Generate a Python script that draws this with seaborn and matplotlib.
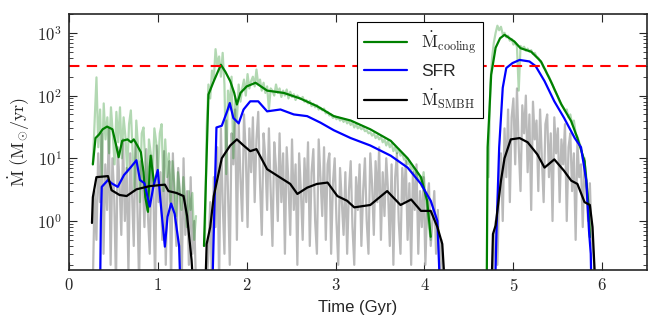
import numpy as np
import matplotlib
matplotlib.use("Agg")
import matplotlib.pyplot as plt
import seaborn as sns

# Dados (tempo em Gyr, taxas em Msun/yr)

# M_cooling suavizado (3 episodios)
t_cool_1 = [0.27, 0.30, 0.34, 0.38, 0.43, 0.49, 0.53, 0.56, 0.60, 0.66, 0.70, 0.73, 0.77, 0.81, 0.84, 0.86, 0.89, 0.91, 0.92, 0.94, 0.96]
v_cool_1 = [8, 21, 24, 29, 32, 29, 16.6, 10.4, 19, 20, 18, 20, 16, 12.5, 6, 2.4, 1.4, 7.3, 11, 6.4, 4]
t_cool_2 = [1.52, 1.57, 1.63, 1.71, 1.76, 1.815, 1.86, 1.89, 1.93, 2.00, 2.10, 2.23, 2.42, 2.60, 2.79, 2.98, 3.17, 3.39, 3.62, 3.81, 3.96, 4.03, 4.07]
v_cool_2 = [0.4, 104, 170, 310, 240, 170, 110, 72, 110, 140, 160, 120, 110, 90, 68, 47, 40, 29, 19, 10, 5, 2.1, 0.56]
t_cool_3 = [4.70, 4.71, 4.75, 4.80, 4.85, 4.90, 5.01, 5.08, 5.20, 5.31, 5.42, 5.54, 5.65, 5.72, 5.80, 5.84, 5.86]
v_cool_3 = [0.1, 15, 215, 580, 820, 930, 730, 570, 500, 350, 170, 72, 39, 21, 9, 2.1, 0.55]

# SFR
t_sfr_1 = [0.35, 0.36, 0.37, 0.44, 0.48, 0.55, 0.62, 0.70, 0.76, 0.80, 0.85, 0.91, 0.95, 1.00, 1.04, 1.08, 1.11, 1.15, 1.19, 1.22, 1.24, 1.26]
v_sfr_1 = [0.05, 1.0, 3.5, 4.5, 4, 3.5, 5.4, 7.3, 9.3, 4.5, 4, 1.7, 3.5, 6.5, 1.5, 0.39, 1.17, 1.9, 1.3, 0.64, 0.4, 0.05]
t_sfr_2 = [1.61, 1.66, 1.72, 1.78, 1.81, 1.85, 1.91, 1.965, 2.04, 2.13, 2.23, 2.38, 2.53, 2.68, 2.83, 2.98, 3.17, 3.39, 3.62, 3.81, 3.96, 4.07, 4.145, 4.18]
v_sfr_2 = [0.05, 31, 33, 56, 76, 44, 36, 60, 81, 81, 56, 60, 50, 47, 37, 28, 21, 16, 11, 7.1, 3.9, 2.1, 1.0, 0.05]
t_sfr_3 = [4.79, 4.81, 4.84, 4.88, 4.92, 4.99, 5.07, 5.18, 5.25, 5.35, 5.46, 5.57, 5.69, 5.76, 5.82, 5.85, 5.87, 5.88]
v_sfr_3 = [0.05, 0.7, 15, 133, 275, 330, 370, 350, 295, 170, 81, 44, 21, 15, 4.4, 0.7, 0.3, 0.05]

# M_SMBH suavizado
t_bh_1 = [0.26, 0.27, 0.31, 0.44, 0.48, 0.57, 0.65, 0.76, 0.91, 1.08, 1.12, 1.21, 1.29, 1.33, 1.38, 1.41]
v_bh_1 = [0.93, 2.4, 5, 5.2, 3.1, 2.6, 2.5, 3.2, 3.6, 3.8, 3, 2.8, 2.5, 1.2, 0.24, 0.05]
t_bh_2 = [1.53, 1.55, 1.59, 1.63, 1.72, 1.815, 1.89, 1.965, 2.04, 2.11, 2.23, 2.38, 2.49, 2.57, 2.68, 2.79, 2.91, 3.02, 3.13, 3.21, 3.39, 3.58, 3.73, 3.85, 3.96, 4.07, 4.145, 4.20, 4.24]
v_bh_2 = [0.05, 0.43, 0.8, 2.5, 10, 16, 20, 16, 13, 14, 6.7, 4.9, 3.9, 2.7, 3.4, 3.9, 4.1, 2.5, 2.1, 1.65, 1.8, 3.0, 1.8, 2.2, 1.45, 1.45, 0.8, 0.43, 0.05]
t_bh_3 = [4.75, 4.77, 4.80, 4.86, 4.90, 4.97, 5.07, 5.16, 5.27, 5.35, 5.46, 5.57, 5.65, 5.72, 5.80, 5.86, 5.89, 5.93]
v_bh_3 = [0.05, 0.62, 0.85, 4.4, 10, 20, 21, 18, 11.5, 7.1, 9.6, 6.3, 4.4, 3.9, 2.0, 1.8, 0.8, 0.05]

# series brutas (passo de 0.02 Gyr)
lim_cool_raw = [(0.27, 1.43), (1.53, 4.07), (4.72, 5.86)]
cool_raw_1 = [8, 40, 195, 15, 60, 5, 75, 20, 45, 12, 65, 25, 8, 55, 18, 65, 10, 45, 22, 6,
              35, 58, 12, 3, 40, 15, 2, 25, 31, 8, 1.5, 20, 12, 4, 30, 18, 6, 25, 35, 3,
              20, 5, 12, 2, 9, 4, 1.2, 6, 3, 1.5, 5, 2, 0.8, 3, 1.5, 2.8, 0.5, 1.2]
cool_raw_2 = [0.4, 30, 150, 90, 250, 180, 550, 300, 420, 200, 480,
              150, 5.6, 120, 60, 200, 10, 90, 40, 150, 80, 130,
              180, 100, 220, 130, 170, 200, 140, 260, 150, 180, 120,
              160, 110, 140, 60, 130, 120, 100, 150, 110, 130, 95,
              120, 100, 125, 90, 115, 95, 105, 85, 100, 92, 88,
              95, 80, 85, 75, 82, 68, 74, 65, 70, 60, 64,
              58, 62, 52, 55, 48, 50, 44, 47, 42, 45, 40,
              43, 38, 42, 36, 39, 34, 37, 31, 35, 30, 32,
              29, 31, 27, 28, 25, 26, 23, 25, 21, 23, 20,
              22, 18, 20, 16, 19, 15, 17, 13, 15, 12, 14,
              11, 12, 9.5, 10, 8, 9, 6.5, 7.5, 5.5, 6, 4.5,
              5, 3.5, 6, 2.5, 1.5, 0.8, 0.5]
cool_raw_3 = [5, 150, 400, 700, 1000, 1300, 1100, 1250, 950, 1000, 850, 900, 750, 800, 650,
              700, 600, 120, 620, 560, 600, 520, 560, 500, 530, 460, 480, 420, 400, 350,
              330, 280, 260, 220, 200, 170, 150, 125, 110, 95, 80, 72, 65, 58, 60,
              45, 50, 35, 40, 25, 22, 18, 15, 10, 9, 5, 2, 0.6]

lim_bh_raw = [(0.27, 1.43), (1.55, 4.23), (4.76, 5.92)]
bh_raw_1 = [0.1, 3, 0.5, 12, 2, 25, 0.3, 8, 1.5, 30, 0.2, 10, 2.5, 0.1, 15, 4, 0.6, 20, 1, 7,
            0.15, 12, 3, 0.4, 18, 2, 0.1, 9, 5, 0.8, 14, 1.2, 0.3, 11, 3.5, 0.1, 16, 2, 6, 0.5,
            13, 0.2, 4, 9, 0.1, 12, 1.5, 0.4, 7, 2.5, 0.1, 10, 0.6, 3, 0.2, 5, 0.3, 1, 0.1]
bh_raw_2 = [0.1, 0.3, 2, 0.1, 5, 0.8, 15, 0.1, 30, 2, 0.3,
            40, 3, 0.2, 25, 8, 60, 0.5, 35, 5, 1, 50, 12,
            0.8, 30, 6, 45, 2, 20, 55, 4, 0.6, 25, 10,
            1.5, 30, 3, 0.4, 18, 7, 1, 25, 2, 12, 0.3,
            15, 4, 0.6, 20, 1.5, 8, 0.2, 12, 3, 0.5, 10,
            2, 18, 0.4, 6, 14, 1, 0.3, 20, 5, 1.2, 15,
            0.5, 8, 12, 0.3, 4, 10, 1, 0.2, 7, 2, 0.6,
            6, 0.3, 3, 9, 0.8, 0.2, 5, 1.5, 8, 0.4, 3,
            10, 1, 0.3, 12, 4, 0.6, 9, 2, 15, 0.5, 6,
            1.2, 10, 3, 0.4, 8, 0.2, 5, 12, 1, 0.3, 7,
            2, 9, 0.5, 4, 0.2, 6, 1.5, 8, 0.3, 3, 0.8,
            5, 0.2, 2, 4, 0.4, 1, 3, 0.3, 1.5, 0.15, 0.5, 0.1, 0.1]
bh_raw_3 = [0.1, 0.3, 1, 0.2, 3, 12, 1, 30, 5, 60, 2, 45, 90, 8, 130, 15, 3, 70, 25, 100,
            6, 50, 1.5, 80, 20, 40, 3, 60, 10, 2, 35, 50, 5, 25, 1, 45, 12, 30, 2, 20,
            8, 35, 1, 15, 25, 3, 12, 0.5, 18, 5, 8, 0.8, 10, 3, 1, 4, 0.5, 0.3, 0.1]

limite_sfr = 300
legenda = [r'$\dot{\mathrm{M}}_{\mathrm{cooling}}$', 'SFR', r'$\dot{\mathrm{M}}_{\mathrm{SMBH}}$']
xticks = [0, 1, 2, 3, 4, 5, 6]
yticks = [1, 10, 100, 1000]
ytick_labels = [r'$\mathbf{10^{0}}$', r'$\mathbf{10^{1}}$', r'$\mathbf{10^{2}}$', r'$\mathbf{10^{3}}$']


# Estilo
sns.set_style("ticks")
plt.rcParams['mathtext.fontset'] = 'cm'
plt.rcParams['font.family'] = ['Liberation Sans', 'DejaVu Sans']

fig = plt.figure(figsize=(6.62, 3.25), dpi=100)
ax = fig.add_axes([0.104, 0.169, 0.873, 0.788])

# series brutas ao fundo
for (a, b), vals in zip(lim_bh_raw, [bh_raw_1, bh_raw_2, bh_raw_3]):
    sns.lineplot(x=np.linspace(a, b, len(vals)), y=vals, ax=ax, color='0.73',
                 lw=1.6, estimator=None, sort=False)
for (a, b), vals in zip(lim_cool_raw, [cool_raw_1, cool_raw_2, cool_raw_3]):
    sns.lineplot(x=np.linspace(a, b, len(vals)), y=vals, ax=ax, color='green',
                 alpha=0.3, lw=1.6, estimator=None, sort=False)

# linhas suavizadas
cores = ['green', 'blue', 'black']
grupos = [
    [(t_cool_1, v_cool_1), (t_cool_2, v_cool_2), (t_cool_3, v_cool_3)],
    [(t_sfr_1, v_sfr_1), (t_sfr_2, v_sfr_2), (t_sfr_3, v_sfr_3)],
    [(t_bh_1, v_bh_1), (t_bh_2, v_bh_2), (t_bh_3, v_bh_3)],
]
handles = []
for cor, segs in zip(cores, grupos):
    for t, v in segs:
        sns.lineplot(x=t, y=v, ax=ax, color=cor, lw=1.6, estimator=None, sort=False)
    handles.append(ax.lines[-1])

ax.axhline(limite_sfr, color='red', ls='--', lw=1.5, dashes=(5, 3.5))

ax.set_yscale('log')
ax.set_xlim(0, 6.5)
ax.set_ylim(0.165, 2000)
ax.set_xticks(xticks)
ax.set_xticklabels([r'$\mathbf{%d}$' % x for x in xticks], fontsize=12)
ax.set_yticks(yticks)
ax.set_yticklabels(ytick_labels, fontsize=12)
ax.tick_params(which='both', direction='in', top=True, right=True)
ax.tick_params(which='major', length=6, width=0.8, pad=5)
ax.tick_params(which='minor', length=3, width=0.6)
ax.minorticks_on()
ax.xaxis.set_minor_locator(matplotlib.ticker.NullLocator())
for s in ax.spines.values():
    s.set_linewidth(1.2)

ax.set_xlabel('Time (Gyr)', fontsize=12)
ax.set_ylabel(r'$\dot{\mathrm{M}}\ (\mathrm{M_{\odot}/yr})$', fontsize=13)

leg = ax.legend(handles, legenda, loc='upper left', bbox_to_anchor=(0.498, 0.97),
                borderaxespad=0, fancybox=False, edgecolor='black', framealpha=1,
                fontsize=12.5, handlelength=2.5)
leg.get_frame().set_linewidth(0.8)

plt.savefig('out.png', dpi=100)
